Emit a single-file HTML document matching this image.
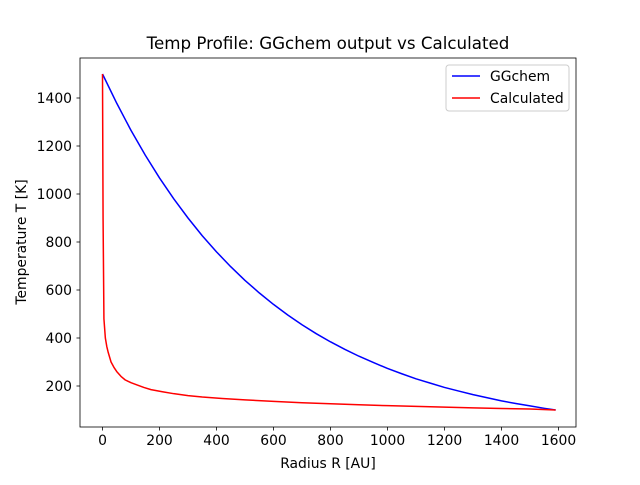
<!DOCTYPE html>
<html><head><meta charset="utf-8"><style>body{margin:0;background:#fff}svg{font-family:"DejaVu Sans","Liberation Sans",sans-serif}</style></head>
<body>
<svg id="chart" width="640" height="480">
<rect width="640" height="480" fill="#fff"/>
<text x="328" y="49" font-size="16.7" text-anchor="middle">Temp Profile: GGchem output vs Calculated</text>
<g id="plot"></g>
<rect x="80" y="58" width="496" height="369" fill="none" stroke="#000" stroke-width="0.8"/>
<text x="328" y="468" font-size="13.9" text-anchor="middle">Radius R [AU]</text>
<text transform="translate(26,242) rotate(-90)" font-size="13.9" text-anchor="middle">Temperature T [K]</text>
<g>
<rect x="446" y="65" width="123" height="46" rx="3" fill="#fff" stroke="#ccc"/>
<line x1="452" y1="76" x2="480" y2="76" stroke="blue" stroke-width="1.5"/>
<text x="490" y="81" font-size="13.9">GGchem</text>
<line x1="452" y1="98" x2="480" y2="98" stroke="red" stroke-width="1.5"/>
<text x="490" y="103" font-size="13.9">Calculated</text>
</g>
</svg>
<script>
const xTicks=[0,200,400,600,800,1000,1200,1400,1600];
const yTicks=[200,400,600,800,1000,1200,1400];
const ggR=[0,50,100,150,200,250,300,350,400,450,500,550,600,650,700,750,800,850,900,950,1000,1050,1100,1150,1200,1250,1300,1350,1400,1450,1500,1550,1590];
const ggT=[1500,1378,1265,1162,1067,980,900,826,759,697,640,588,540,496,455,418,384,353,324,298,273,251,230,212,194,179,164,151,138,127,117,107,100];
const calcR=[0,2,5,10,15,20,30,40,50,65,80,100,120,145,170,210,250,300,350,420,500,600,700,800,900,1000,1100,1200,1300,1400,1500,1590];
const calcT=[1500,900,480,400,365,340,300,278,260,240,225,214,205,194,185,176,168,160,154,148,142,136,130,126,122,118,115,112,109,106,104,100];
const sx=v=>102.5+v*0.285;
const sy=v=>434-v*0.24;
const g=document.getElementById('plot');
const NS='http://www.w3.org/2000/svg';
function mk(t,a){const e=document.createElementNS(NS,t);for(const k in a)e.setAttribute(k,a[k]);g.appendChild(e);return e;}
xTicks.forEach(v=>{
 const l=mk('line',{x1:sx(v),x2:sx(v),y1:427,y2:430.5,stroke:'#000','stroke-width':0.8});
 
 
 const t=mk('text',{x:sx(v),y:445,'font-size':13.9,'text-anchor':'middle'});t.textContent=v;
 
 
});
yTicks.forEach(v=>{
 const l=mk('line',{x1:76.5,x2:80,y1:sy(v),y2:sy(v),stroke:'#000','stroke-width':0.8});
 
 
 const t=mk('text',{x:72,y:sy(v)+5,'font-size':13.9,'text-anchor':'end'});t.textContent=v;
 
 
});
function line(R,T,c,n){
 const p=mk('polyline',{points:R.map((r,i)=>sx(r)+','+sy(T[i])).join(' '),fill:'none',stroke:c,'stroke-width':1.5,'stroke-linejoin':'round'});
 
 
}
line(ggR,ggT,'blue','ggchem-line');
line(calcR,calcT,'red','calculated-line');
</script>
</body></html>
